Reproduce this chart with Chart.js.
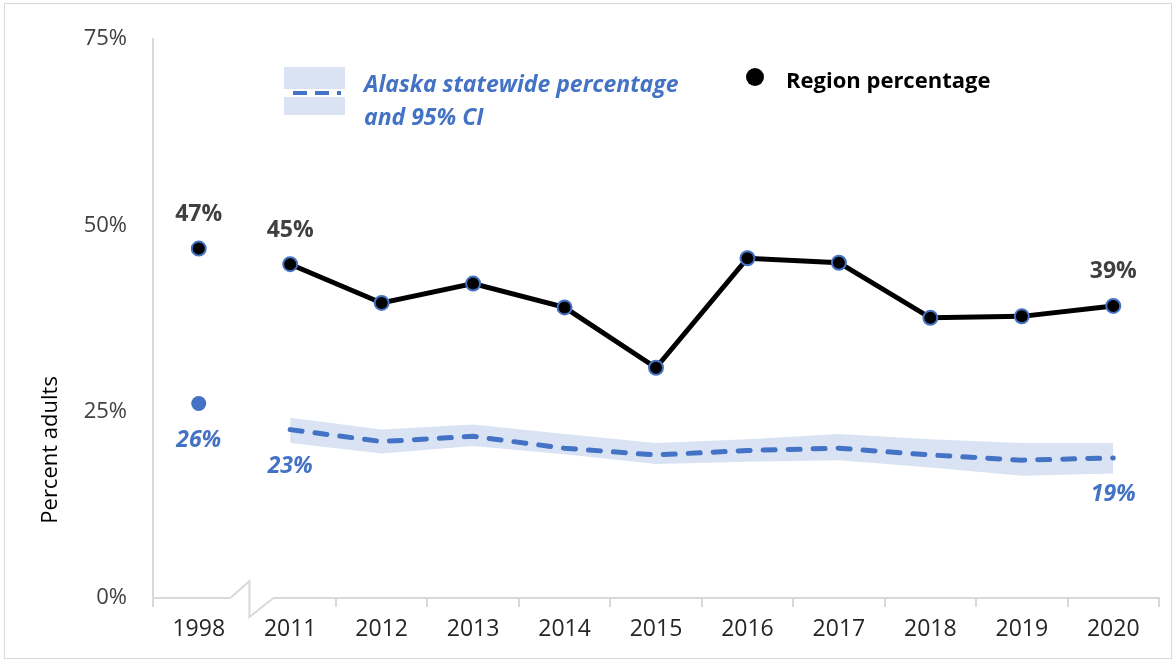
<!DOCTYPE html>
<html>
<head>
<meta charset="utf-8">
<script src="https://cdn.jsdelivr.net/npm/chart.js@4/dist/chart.umd.min.js"></script>
<style>
    body { margin: 0; background: #fff; }
    .chart-wrap { width: 1175px; height: 662px; position: relative; }
</style>
</head>
<body>
<div class="chart-wrap"><canvas id="regionChart"></canvas></div>
<script>
const years = ['1998', '2011', '2012', '2013', '2014', '2015', '2016', '2017', '2018', '2019', '2020'];
const regionPct = [46.9, 44.8, 39.6, 42.2, 39.0, 30.9, 45.6, 45.0, 37.6, 37.8, 39.2];
const statePct = [26.1, 22.6, 21.0, 21.7, 20.1, 19.2, 19.8, 20.1, 19.2, 18.5, 18.8];
const stateCiUpper = [null, 24.2, 22.6, 23.3, 22.0, 20.8, 21.3, 22.0, 21.3, 20.8, 20.8];
const stateCiLower = [null, 20.8, 19.4, 20.4, 19.3, 18.0, 18.3, 18.5, 17.5, 16.4, 16.7];
const yTicks = [0, 25, 50, 75];
const labelledIdx = [0, 1, 10];

const FONT = "'Open Sans', sans-serif";
const BLUE = '#4472C4';
const AXIS_GREY = '#d9d9d9';

// the x axis is broken between 1998 and 2011
const breakIdx = 1;

const decorPlugin = {
    id: 'decor',
    afterDraw(chart) {
        const ctx = chart.ctx;
        const x = chart.scales.x;
        const area = chart.chartArea;
        ctx.save();

        // outer frame
        ctx.strokeStyle = AXIS_GREY;
        ctx.lineWidth = 1;
        ctx.strokeRect(4.5, 3.5, 1167, 655);

        // axis break
        const b = (x.getPixelForValue(breakIdx - 1) + x.getPixelForValue(breakIdx)) / 2;
        const y = area.bottom;
        ctx.fillStyle = '#fff';
        ctx.fillRect(b - 14, y - 3, 43, 6);
        ctx.strokeStyle = AXIS_GREY;
        ctx.lineWidth = 2;
        ctx.beginPath();
        ctx.moveTo(b - 14, y);
        ctx.lineTo(b + 5, y - 17);
        ctx.lineTo(b + 5, y + 19);
        ctx.lineTo(b + 29, y);
        ctx.stroke();

        // y axis title
        ctx.save();
        ctx.translate(51, area.top + (area.bottom - area.top) * 0.735);
        ctx.rotate(-Math.PI / 2);
        ctx.fillStyle = '#000';
        ctx.font = `22px ${FONT}`;
        ctx.textAlign = 'center';
        ctx.textBaseline = 'middle';
        ctx.fillText('Percent adults', 0, 0);
        ctx.restore();

        // legend: statewide band + dashed line
        ctx.fillStyle = 'rgba(68,114,196,0.2)';
        ctx.fillRect(284, 67, 61, 48);
        ctx.fillStyle = '#fff';
        ctx.fillRect(284, 89, 61, 8);
        ctx.strokeStyle = BLUE;
        ctx.lineWidth = 4;
        ctx.setLineDash([14, 8]);
        ctx.beginPath();
        ctx.moveTo(293, 93);
        ctx.lineTo(341, 93);
        ctx.stroke();
        ctx.setLineDash([]);
        ctx.fillStyle = BLUE;
        ctx.font = `italic bold 23px ${FONT}`;
        ctx.textAlign = 'left';
        ctx.textBaseline = 'middle';
        ctx.fillText('Alaska statewide percentage', 364, 85);
        ctx.fillText('and 95% CI', 364, 118);

        // legend: region dot
        ctx.fillStyle = '#000';
        ctx.beginPath();
        ctx.arc(755, 77, 9, 0, Math.PI * 2);
        ctx.fill();
        ctx.font = `bold 22px ${FONT}`;
        ctx.fillText('Region percentage', 786, 82);

        ctx.restore();
    },
    afterDatasetsDraw(chart) {
        const ctx = chart.ctx;
        ctx.save();
        ctx.textAlign = 'center';
        ctx.textBaseline = 'middle';
        const regionMeta = chart.getDatasetMeta(0);
        const stateMeta = chart.getDatasetMeta(1);
        labelledIdx.forEach((i) => {
            const rp = regionMeta.data[i];
            ctx.fillStyle = '#404040';
            ctx.font = `bold 23px ${FONT}`;
            ctx.fillText(Math.round(regionPct[i]) + '%', rp.x, rp.y - 34);

            const sp = stateMeta.data[i];
            ctx.fillStyle = BLUE;
            ctx.font = `italic bold 23px ${FONT}`;
            ctx.fillText(Math.round(statePct[i]) + '%', sp.x, sp.y + 37);
        });
        ctx.restore();
    }
};

new Chart(document.getElementById('regionChart'), {
    type: 'line',
    data: {
        labels: years,
        datasets: [
            {
                label: 'Region percentage',
                data: regionPct,
                borderColor: '#000',
                borderWidth: 5,
                segment: {
                    borderColor: (c) => c.p0DataIndex === 0 ? 'transparent' : '#000'
                },
                pointRadius: 7,
                pointBackgroundColor: '#000',
                pointBorderColor: BLUE,
                pointBorderWidth: 2,
                tension: 0
            },
            {
                label: 'Alaska statewide percentage',
                data: statePct,
                borderColor: BLUE,
                borderWidth: 5,
                borderDash: [12, 13],
                borderCapStyle: 'round',
                segment: {
                    borderColor: (c) => c.p0DataIndex === 0 ? 'transparent' : BLUE
                },
                pointRadius: statePct.map((v, i) => i === 0 ? 7.5 : 0),
                pointBackgroundColor: BLUE,
                pointBorderWidth: 0,
                tension: 0
            },
            {
                label: 'CI upper',
                data: stateCiUpper,
                borderWidth: 0,
                pointRadius: 0,
                fill: '+1',
                backgroundColor: 'rgba(68,114,196,0.2)',
                tension: 0
            },
            {
                label: 'CI lower',
                data: stateCiLower,
                borderWidth: 0,
                pointRadius: 0,
                fill: false,
                tension: 0
            }
        ]
    },
    options: {
        responsive: true,
        maintainAspectRatio: false,
        animation: false,
        layout: { padding: { top: 35, right: 16, bottom: 0, left: 0 } },
        plugins: {
            legend: { display: false },
            tooltip: { enabled: false }
        },
        scales: {
            x: {
                offset: true,
                afterFit: (scale) => { scale.height = 64; },
                grid: {
                    offset: true,
                    drawOnChartArea: false,
                    drawTicks: true,
                    tickLength: 9,
                    color: (c) => c.index === breakIdx ? 'transparent' : AXIS_GREY,
                    lineWidth: 2
                },
                border: { display: true, color: AXIS_GREY, width: 2 },
                ticks: {
                    color: '#262626',
                    font: { family: FONT, size: 23 },
                    padding: 9,
                    maxRotation: 0
                }
            },
            y: {
                min: 0,
                max: 75,
                afterFit: (scale) => { scale.width = 153; },
                afterBuildTicks: (scale) => {
                    scale.ticks = yTicks.map((v) => ({ value: v }));
                },
                grid: { display: false, drawTicks: false },
                border: { display: true, color: AXIS_GREY, width: 2 },
                ticks: {
                    color: '#404040',
                    font: { family: FONT, size: 22 },
                    padding: 26,
                    callback: (v) => v + '%'
                }
            }
        }
    },
    plugins: [decorPlugin]
});
</script>
</body>
</html>
